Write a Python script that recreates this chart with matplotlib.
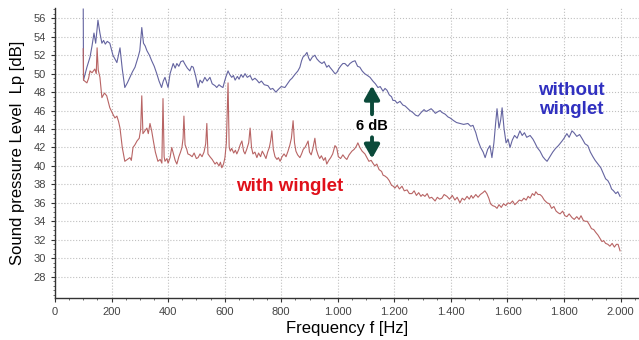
import matplotlib
matplotlib.use("Agg")
import matplotlib.pyplot as plt
from matplotlib.ticker import MultipleLocator, FuncFormatter

plt.rcParams['font.family'] = ['Liberation Sans', 'DejaVu Sans']

# without winglet (blue)
f_without = [100, 101, 113, 124, 131, 138, 144, 152, 159, 166, 172, 178, 185, 194, 205, 212, 219, 230, 238,
             247, 256, 265, 274, 283, 294, 300, 307, 313, 319, 325, 334, 342, 351, 360, 368, 377, 383, 389,
             395, 400, 407, 418, 425, 431, 438, 445, 453, 460, 468, 477, 483, 489, 497, 506, 513, 521, 530,
             538, 548, 556, 566, 572, 580, 588, 594, 600, 606, 612, 618, 625, 631, 637, 645, 651, 658, 665,
             672, 680, 690, 698, 707, 714, 722, 730, 740, 753, 762, 770, 781, 790, 800, 813, 822, 831, 838,
             848, 859, 866, 872, 877, 884, 891, 897, 902, 910, 919, 926, 935, 944, 952, 961, 968, 972, 980,
             990, 996, 1005, 1012, 1018, 1025, 1035, 1043, 1052, 1061, 1070, 1078, 1086, 1095, 1105, 1114,
             1124, 1133, 1142, 1150, 1160, 1167, 1174, 1182, 1190, 1195, 1202, 1210, 1220, 1230, 1238, 1245,
             1255, 1265, 1275, 1284, 1295, 1305, 1312, 1319, 1330, 1337, 1345, 1355, 1362, 1368, 1380, 1390,
             1397, 1410, 1420, 1432, 1445, 1460, 1470, 1478, 1488, 1495, 1505, 1514, 1521, 1530, 1538, 1545,
             1552, 1558, 1563, 1570, 1576, 1581, 1588, 1595, 1602, 1609, 1617, 1625, 1634, 1644, 1652, 1660,
             1668, 1680, 1690, 1697, 1705, 1715, 1725, 1733, 1740, 1750, 1760, 1770, 1780, 1793, 1800, 1810,
             1818, 1828, 1835, 1845, 1855, 1865, 1874, 1884, 1893, 1902, 1910, 1920, 1930, 1940, 1947, 1955,
             1962, 1968, 1975, 1983, 1990, 1998]
lp_without = [57.0, 49.3, 50.7, 51.8, 53.0, 54.4, 53.3, 55.8, 54.4, 53.3, 53.6, 53.2, 53.5, 53.3, 52.0, 51.6,
              51.2, 52.8, 50.5, 48.5, 49.0, 49.6, 50.2, 50.7, 51.8, 52.5, 55.0, 53.3, 53.0, 52.5, 52.0, 51.4,
              50.8, 50.0, 49.2, 48.5, 49.2, 49.6, 49.0, 48.5, 50.0, 51.1, 50.6, 51.1, 50.8, 51.3, 51.4, 51.0,
              50.6, 50.3, 50.8, 50.7, 49.8, 48.5, 49.3, 49.0, 49.6, 49.2, 49.6, 48.9, 48.7, 48.5, 48.8, 48.6,
              48.5, 49.2, 49.8, 50.3, 49.9, 49.6, 49.8, 49.3, 49.7, 49.4, 49.9, 49.6, 50.0, 49.6, 49.8, 49.3,
              49.5, 49.3, 49.0, 49.2, 48.8, 48.7, 48.3, 48.4, 48.0, 48.3, 48.6, 48.5, 48.9, 49.3, 49.5, 49.9,
              50.3, 50.7, 51.4, 51.8, 52.0, 52.3, 51.7, 51.4, 51.8, 52.0, 51.6, 51.3, 51.1, 51.3, 50.7, 50.9,
              50.7, 50.4, 50.0, 50.1, 50.6, 50.9, 51.1, 51.1, 50.8, 51.1, 51.3, 51.4, 50.8, 50.7, 50.3, 50.0,
              49.8, 49.6, 49.2, 48.9, 48.5, 48.6, 48.1, 48.4, 48.2, 47.7, 47.5, 47.1, 47.1, 46.8, 47.0, 46.6,
              46.5, 46.3, 46.0, 45.8, 45.5, 45.4, 45.8, 46.1, 45.9, 46.0, 46.2, 46.0, 45.7, 45.9, 46.0, 45.8,
              45.6, 45.3, 45.2, 44.9, 44.7, 44.6, 44.5, 44.6, 44.3, 44.4, 43.6, 42.8, 42.0, 41.5, 40.9, 41.8,
              42.2, 40.9, 42.5, 44.6, 46.2, 44.1, 45.0, 46.3, 44.0, 42.5, 42.9, 42.0, 42.8, 43.3, 43.0, 43.8,
              43.3, 43.6, 43.1, 43.3, 42.9, 42.5, 42.0, 41.6, 41.0, 40.7, 40.5, 41.0, 41.5, 41.9, 42.2, 42.7,
              43.0, 43.5, 43.1, 43.8, 43.6, 43.2, 43.4, 42.9, 42.4, 42.2, 41.5, 41.0, 40.6, 40.2, 39.8, 39.1,
              38.6, 38.4, 38.0, 37.5, 37.3, 37.0, 37.2, 36.7]

# with winglet (red)
f_with = [100, 101, 113, 119, 124, 131, 141, 146, 149, 153, 159, 166, 175, 183, 190, 194, 205, 212, 219, 225,
          230, 238, 247, 256, 265, 270, 276, 283, 290, 298, 303, 307, 311, 318, 325, 330, 336, 342, 348, 355,
          364, 372, 378, 382, 386, 389, 396, 400, 407, 413, 420, 425, 431, 438, 444, 449, 453, 456, 460, 466,
          470, 477, 485, 492, 500, 506, 513, 520, 527, 533, 537, 541, 548, 556, 566, 572, 580, 585, 590, 596,
          601, 606, 612, 616, 620, 625, 632, 638, 643, 650, 655, 661, 667, 672, 678, 685, 690, 695, 700, 707,
          714, 720, 727, 733, 740, 746, 752, 758, 763, 767, 772, 778, 785, 790, 796, 803, 810, 817, 824, 830,
          836, 842, 847, 852, 858, 866, 872, 878, 884, 889, 895, 900, 906, 912, 919, 924, 930, 936, 942, 950,
          956, 961, 968, 975, 982, 990, 996, 1002, 1010, 1018, 1025, 1032, 1040, 1050, 1058, 1065, 1071, 1078,
          1086, 1096, 1103, 1110, 1118, 1124, 1131, 1138, 1146, 1155, 1160, 1167, 1175, 1182, 1190, 1196, 1202,
          1210, 1218, 1227, 1235, 1245, 1253, 1262, 1270, 1278, 1286, 1294, 1300, 1308, 1316, 1324, 1332, 1344,
          1352, 1360, 1368, 1376, 1386, 1395, 1405, 1414, 1422, 1432, 1440, 1448, 1457, 1465, 1472, 1478, 1488,
          1496, 1504, 1513, 1520, 1527, 1534, 1540, 1547, 1556, 1563, 1570, 1578, 1586, 1594, 1602, 1609, 1618,
          1626, 1633, 1642, 1650, 1658, 1666, 1673, 1680, 1688, 1695, 1700, 1708, 1715, 1722, 1730, 1740, 1748,
          1756, 1764, 1772, 1780, 1786, 1795, 1803, 1810, 1818, 1828, 1836, 1845, 1853, 1860, 1868, 1874, 1882,
          1890, 1897, 1905, 1912, 1920, 1928, 1934, 1940, 1947, 1955, 1962, 1970, 1978, 1985, 1991, 1998]
lp_with = [52.7, 49.3, 49.0, 49.5, 50.3, 50.1, 50.5, 50.0, 52.8, 50.4, 49.6, 47.4, 47.9, 47.6, 46.8, 46.3, 45.6,
           45.2, 45.4, 44.8, 44.1, 42.0, 40.5, 40.7, 40.9, 40.6, 42.0, 42.3, 42.7, 43.0, 44.0, 47.6, 43.5, 43.8,
           44.1, 43.5, 44.6, 43.8, 42.7, 41.5, 40.5, 40.7, 40.3, 47.3, 41.0, 40.5, 40.8, 40.3, 40.9, 42.0, 41.2,
           40.6, 40.2, 41.0, 41.5, 42.0, 43.0, 45.4, 42.3, 41.8, 41.3, 41.2, 41.0, 41.4, 40.8, 40.9, 41.3, 41.0,
           41.5, 42.4, 44.6, 41.3, 41.0, 40.7, 40.2, 40.4, 40.0, 40.4, 39.8, 40.2, 40.9, 42.5, 49.0, 42.0, 41.6,
           41.9, 41.4, 41.7, 41.3, 41.8, 42.3, 42.7, 41.6, 41.3, 41.8, 42.5, 44.1, 42.0, 41.3, 41.5, 40.9, 41.4,
           41.0, 41.6, 41.2, 40.8, 41.5, 42.0, 42.8, 43.8, 41.8, 41.0, 40.7, 40.9, 40.5, 41.0, 41.3, 41.0, 41.6,
           42.2, 43.0, 44.9, 42.5, 41.6, 41.2, 40.9, 41.3, 41.8, 42.0, 42.3, 42.7, 41.5, 41.2, 41.9, 43.0, 41.8,
           41.2, 40.8, 41.1, 40.6, 40.9, 40.2, 40.6, 40.9, 41.3, 42.2, 42.0, 41.0, 40.8, 41.2, 40.9, 40.7, 41.2,
           41.6, 41.8, 42.1, 42.5, 42.0, 41.6, 41.3, 40.9, 40.5, 40.6, 40.3, 40.0, 40.2, 39.6, 39.4, 39.0, 38.9,
           38.7, 38.4, 37.9, 37.8, 37.6, 37.9, 37.5, 37.8, 37.3, 37.4, 37.0, 37.0, 37.3, 36.8, 37.1, 36.7, 36.9,
           36.7, 37.0, 36.5, 36.6, 36.2, 36.6, 36.4, 36.5, 36.9, 36.7, 36.4, 36.8, 36.3, 36.6, 36.0, 36.5, 36.3,
           36.7, 36.4, 36.8, 36.5, 36.9, 36.6, 36.9, 37.1, 37.3, 37.0, 36.5, 35.9, 35.7, 35.6, 35.4, 35.8, 35.5,
           35.9, 35.7, 36.0, 35.9, 36.2, 35.8, 36.0, 36.3, 36.2, 36.5, 36.3, 36.7, 36.5, 37.0, 36.8, 37.2, 36.9,
           36.9, 36.7, 36.3, 36.0, 35.9, 35.4, 35.6, 35.1, 34.9, 34.8, 35.1, 34.6, 34.5, 34.8, 34.4, 34.2, 34.5,
           34.2, 34.6, 34.1, 34.0, 34.0, 33.6, 33.2, 33.1, 32.8, 32.5, 32.1, 31.8, 31.9, 31.6, 31.5, 31.3, 31.6,
           31.2, 31.5, 31.5, 30.8]

fig = plt.figure(figsize=(6.39, 3.40), dpi=100, facecolor='white')
ax = fig.add_axes([0.086, 0.124, 0.914, 0.852])

ax.plot(f_without, lp_without, color='#6464a0', lw=0.8)
ax.plot(f_with, lp_with, color='#b86464', lw=0.8)

ax.set_xlim(0, 2065)
ax.set_ylim(25.7, 57.1)
ax.xaxis.set_major_locator(MultipleLocator(200))
ax.xaxis.set_minor_locator(MultipleLocator(50))
ax.yaxis.set_minor_locator(MultipleLocator(0.5))
ax.set_yticks(range(28, 57, 2))
ax.xaxis.set_major_formatter(FuncFormatter(lambda v, p: f"{int(v):,}".replace(',', '.')))

ax.grid(True, which='major', color='#c0c0c0', linestyle=':', lw=0.8)
for s in ['top', 'right']:
    ax.spines[s].set_visible(False)
for s in ['left', 'bottom']:
    ax.spines[s].set_color('#333333')
    ax.spines[s].set_linewidth(1.0)
ax.tick_params(which='major', length=3, width=0.8, colors='#333333', labelsize=8, labelcolor='#444444')
ax.tick_params(which='minor', length=1.5, width=0.6, colors='#555555')

ax.set_xlabel('Frequency f [Hz]', fontsize=12, labelpad=3)
ax.set_ylabel('Sound pressure Level  Lp [dB]', fontsize=12, labelpad=6)

ax.text(1825, 47.1, 'without\nwinglet', color='#3030c0', fontsize=13.5, fontweight='bold',
        ha='center', va='center', linespacing=1.15)
ax.text(831, 37.8, 'with winglet', color='#e0101a', fontsize=13.5, fontweight='bold',
        ha='center', va='center', bbox=dict(facecolor='white', edgecolor='none', pad=1))

arrow = dict(arrowstyle='-|>,head_width=0.45,head_length=0.8', lw=2.8, color='#0b4a3a',
             shrinkA=0, shrinkB=0)
ax.annotate('', xy=(1121, 48.7), xytext=(1121, 45.6), arrowprops=arrow)
ax.annotate('', xy=(1121, 40.8), xytext=(1121, 43.1), arrowprops=arrow)
ax.text(1121, 44.35, '6 dB', fontsize=10.5, fontweight='bold', ha='center', va='center',
        bbox=dict(facecolor='white', edgecolor='none', pad=1))

fig.savefig('out.png', dpi=100, facecolor='white')
